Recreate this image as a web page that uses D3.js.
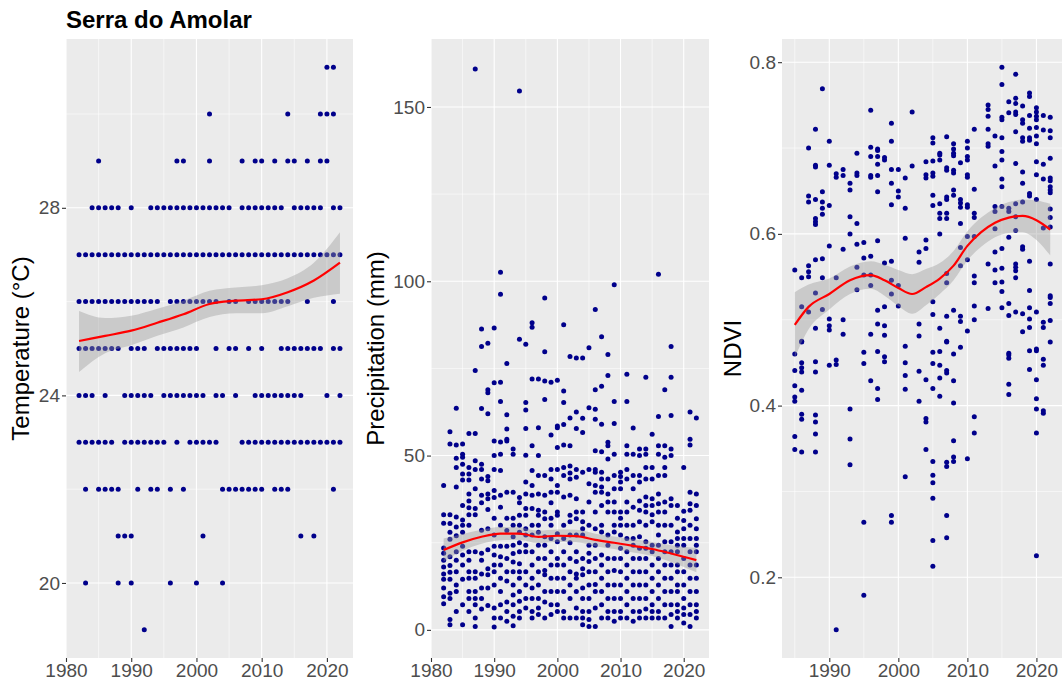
<!DOCTYPE html>
<html>
<head>
<meta charset="utf-8">
<script src="https://cdn.jsdelivr.net/npm/d3@7"></script>
<style>
  body { margin: 0; background: #fff; }
  text { font-family: "Liberation Sans", Arial, sans-serif; }
</style>
</head>
<body>
<script>
// ---------- data ----------
// temperature: integer levels, years that have a point on each level
var tempLevels = [31, 30, 29, 28, 27, 26, 25, 24, 23, 22, 21, 20, 19];
var tempYears = [
  [2020, 2021],
  [2002, 2014, 2019, 2020, 2021],
  [1985, 1997, 1998, 2002, 2007, 2009, 2010, 2012, 2014, 2015, 2017, 2019, 2020],
  [1984, 1985, 1986, 1987, 1988, 1990, 1993, 1994, 1995, 1996, 1997, 1998, 1999, 2000, 2001, 2002, 2003, 2004, 2005,
   2007, 2008, 2009, 2010, 2011, 2012, 2013, 2015, 2016, 2017, 2018, 2019, 2021, 2022],
  [1982, 1983, 1984, 1985, 1986, 1987, 1988, 1989, 1990, 1991, 1992, 1993, 1994, 1995, 1996, 1997, 1998, 1999, 2000, 2001,
   2002, 2003, 2004, 2005, 2006, 2007, 2008, 2009, 2010, 2011, 2012, 2013, 2014, 2015, 2016, 2017, 2018, 2019, 2020, 2021, 2022],
  [1982, 1983, 1984, 1985, 1986, 1987, 1988, 1989, 1990, 1991, 1992, 1993, 1994, 1996, 1997, 1998, 1999, 2000, 2001, 2002,
   2003, 2005, 2006, 2008, 2009, 2010, 2011, 2012, 2013, 2014, 2017, 2021],
  [1982, 1983, 1984, 1985, 1986, 1987, 1988, 1990, 1991, 1992, 1994, 1995, 1996, 1997, 1998, 1999, 2000, 2003, 2005, 2006,
   2008, 2010, 2013, 2014, 2015, 2016, 2017, 2018, 2019, 2021, 2022],
  [1982, 1983, 1984, 1986, 1989, 1990, 1991, 1992, 1993, 1995, 1996, 1997, 1998, 1999, 2000, 2001, 2003, 2004, 2006, 2009,
   2010, 2011, 2012, 2013, 2014, 2015, 2016, 2020, 2022],
  [1982, 1983, 1984, 1985, 1986, 1987, 1989, 1990, 1991, 1992, 1993, 1994, 1995, 1997, 1999, 2000, 2001, 2002, 2003, 2007,
   2008, 2009, 2010, 2011, 2012, 2013, 2014, 2015, 2016, 2017, 2018, 2019, 2020, 2021, 2022],
  [1983, 1985, 1986, 1987, 1988, 1991, 1993, 1994, 1996, 1998, 2004, 2005, 2006, 2007, 2008, 2009, 2010, 2012, 2013, 2014, 2021],
  [1988, 1989, 1990, 2001, 2016, 2018],
  [1983, 1988, 1990, 1996, 2000, 2004],
  [1992]
];
var tempSmoothYears = [1982, 1986, 1990, 1994, 1998, 2002, 2006, 2010, 2014, 2018, 2022];
var tempFit   = [25.16, 25.27, 25.38, 25.55, 25.73, 25.95, 26.02, 26.05, 26.2, 26.45, 26.83];
var tempLower = [24.5, 24.9, 25.07, 25.27, 25.45, 25.67, 25.75, 25.75, 25.9, 26.08, 26.17];
var tempUpper = [25.8, 25.65, 25.7, 25.85, 26.02, 26.23, 26.3, 26.35, 26.5, 26.83, 27.48];

// precipitation (mm), points per year
var precipYears = [1982, 1983, 1984, 1985, 1986, 1987, 1988, 1989, 1990, 1991, 1992, 1993, 1994, 1995, 1996, 1997, 1998, 1999,
  2000, 2001, 2002, 2003, 2004, 2005, 2006, 2007, 2008, 2009, 2010, 2011, 2012, 2013, 2014, 2015, 2016, 2017, 2018, 2019,
  2020, 2021, 2022];
var precipValues = [
  [41.4, 33, 30.6, 23.5, 22, 20, 18, 16, 14.5, 12, 9.5, 7.5],
  [56.8, 53.3, 33, 30.5, 28, 26, 21, 18.5, 16.5, 14.5, 10.5, 9, 3, 1.5],
  [63.6, 53, 49.2, 46.6, 41, 32.4, 29.5, 27, 22.4, 20, 16.7, 12.9, 11, 5.3],
  [53.3, 50.4, 49.5, 47.5, 44.7, 43, 35.7, 31.5, 30, 28, 24, 21.5, 18.6, 14.5, 7.2, 1.5],
  [56.3, 46.6, 44.7, 43, 39, 37, 35, 33, 30, 22.4, 20, 16.7, 14.8, 11, 9, 5.3],
  [160.9, 74.4, 56.3, 48.5, 46, 40.5, 34.8, 33, 22.4, 16.7, 14.8, 11, 9, 7.2, 3.4, 1],
  [86.3, 81.3, 63.5, 47.5, 46, 43.3, 38.6, 36.5, 28.6, 22, 20, 16, 12, 9, 6],
  [82.2, 68.9, 68, 62, 44, 42.8, 39, 37.6, 34.5, 29, 23, 17.5, 15.8, 12, 7],
  [86.6, 70.9, 54.2, 50, 46, 40, 38, 32, 27.2, 24, 21.5, 18.6, 16.7, 12.9, 6.3, 3.4, 0.8],
  [102.6, 96.3, 71, 65.5, 53.9, 50.4, 45.7, 38.6, 35.2, 30, 24, 21, 18.6, 14.8, 11, 7.2, 3.4],
  [76.4, 61.7, 57.6, 54.7, 54.2, 39.5, 32, 28.5, 24, 20.5, 16.7, 14, 8, 5.3, 2.5],
  [51.9, 50.4, 39.5, 32, 30, 26.7, 24.3, 21.9, 19.5, 16.7, 12.9, 10, 7.2, 3.9, 1.2],
  [154.6, 83.4, 38, 36.5, 32.9, 30, 28, 25, 22.4, 19, 16.7, 14.8, 11, 8.2, 5.3, 3.4],
  [81.9, 65.2, 63.1, 57.8, 50.1, 42.4, 39, 34.8, 32.9, 29, 27.2, 24.3, 22.4, 16.7, 12.9, 9, 6.3],
  [88.1, 86.8, 72, 52.8, 45.7, 41.4, 38.6, 34.8, 30, 27.2, 22.4, 18.6, 14.8, 12, 9, 5.3, 3.4],
  [72, 58, 50, 44.3, 39, 34.3, 32.9, 30, 28, 24.3, 20.5, 16.7, 12.9, 9, 6.3, 4.4],
  [95.2, 79.8, 71.4, 66.1, 44.3, 38.6, 33.8, 31.9, 26.7, 24.3, 20.5, 17, 15.8, 11, 8, 3.4],
  [71, 55.9, 46, 43.3, 39.5, 36.5, 32, 30, 26.2, 22.4, 18.6, 14.8, 11, 7.2, 4.4],
  [71.6, 58.5, 58, 52.3, 46, 41.4, 39.5, 33.8, 32.9, 27.6, 25.3, 20.5, 18.6, 14.8, 11, 7.2, 5.3],
  [87.5, 68.5, 65.2, 58.9, 53, 46.6, 44.3, 38.1, 30, 26.2, 22.4, 18.6, 14.8, 11, 5.3, 3.4],
  [78.4, 60.8, 52.8, 47, 45, 43.3, 38.6, 32.9, 31, 27.2, 25, 20.5, 16.7, 12.9, 9, 3.4],
  [78, 62.5, 57.8, 46, 43.8, 37.6, 33.8, 31.9, 27.2, 22.4, 19.6, 16, 14.8, 11, 6.3, 3.4],
  [78, 60.7, 56.6, 45.2, 33.8, 31, 29, 27.2, 20.5, 17.5, 15.8, 12, 9, 5.3, 3.4, 1.5],
  [80.9, 63.7, 46, 41.9, 36.7, 30, 24.3, 22, 19.6, 16.7, 12.9, 9, 5.3, 3, 1],
  [91.9, 68.9, 63.3, 60.4, 51.4, 46, 45.2, 41.4, 39.5, 33.8, 29, 24.3, 20.5, 16.7, 13, 11, 6.3, 1],
  [84.1, 69.9, 59, 51.1, 45.2, 43.3, 41, 39.5, 35.7, 30, 28.1, 21.5, 18.6, 14.8, 11, 7.2, 3.4],
  [79, 73, 53.8, 52.8, 49, 43.3, 39, 36.7, 33.8, 27.2, 24.3, 20.5, 16.7, 12.9, 9, 5.3, 3.4],
  [99, 65.5, 59.2, 50.4, 44.3, 40.5, 36.7, 33.8, 30, 28.1, 20.5, 17, 12.9, 9, 5.3, 2.5],
  [45.2, 44, 42.4, 40.5, 33.8, 32, 30, 27.2, 23.4, 20.5, 16.7, 12.9, 9, 5.3, 3.4],
  [73.3, 65.5, 52.8, 50.4, 46, 43.3, 36.7, 33.8, 30, 26.2, 22.4, 18.6, 14.8, 11, 7.2, 3.4],
  [57.9, 50.4, 44.3, 40.5, 35.2, 30, 26.2, 24.3, 20.5, 16.7, 12.9, 9, 5.3, 2.5],
  [51.9, 50, 44.3, 42.4, 37, 34.3, 31, 26.7, 23.4, 20.5, 16.7, 12.9, 9, 5.3, 3.4],
  [72.5, 51.9, 50.4, 46.6, 43.3, 38.1, 35.7, 33.8, 30, 25.3, 23.4, 20.5, 16.7, 12.9, 9, 6, 3.4],
  [56.1, 46.6, 43.3, 37.6, 35.7, 33, 31, 24.3, 22.4, 18.6, 14.8, 11, 7.2, 5.3, 3.4],
  [102, 61.2, 52.8, 50.4, 44.3, 39, 36.2, 33.8, 30, 27.2, 24.3, 20.5, 16.7, 12.9, 9, 5.3, 3.4],
  [68.9, 52.8, 49.5, 46.6, 44.3, 36.7, 33.8, 30, 25.3, 22.4, 18.6, 14.8, 11, 7.2, 3.4],
  [81.3, 72.5, 61.5, 51.9, 50, 37.6, 35.7, 30, 25.3, 22.4, 18.6, 14.8, 11, 7.2, 4.4, 1],
  [35.7, 32, 28.1, 26.2, 24.3, 22.4, 18.6, 16.7, 12.9, 11, 7.2, 5.3, 3.4],
  [46.6, 34, 31.4, 29, 26.2, 24.3, 20.5, 16.7, 12.9, 9, 6.3, 4.4, 2],
  [62.5, 54.7, 53, 39.5, 36.2, 34.3, 30, 26.2, 22.4, 18.6, 14.8, 11, 7.2, 4.4, 1],
  [60.8, 39, 35.7, 31.9, 29, 26.2, 24.3, 22.4, 18.6, 14.8, 11, 7.2, 5.3, 3.4]
];
var precipSmoothYears = [1982, 1985, 1988, 1991, 1994, 1997, 2000, 2003, 2006, 2009, 2012, 2015, 2018, 2022];
var precipFit   = [22.9, 25.1, 26.7, 27.6, 27.6, 26.7, 27.0, 26.9, 25.8, 25.0, 24.1, 23.2, 21.9, 20.0];
var precipLower = [19.6, 22.7, 24.7, 25.7, 25.8, 24.9, 25.2, 25.1, 24.0, 23.2, 22.2, 21.2, 19.5, 16.5];
var precipUpper = [26.2, 27.5, 28.7, 29.5, 29.4, 28.5, 28.8, 28.7, 27.6, 26.8, 26.0, 25.2, 24.3, 23.5];

// NDVI, points per year
var ndviYears = [1985, 1986, 1987, 1988, 1989, 1990, 1991, 1992, 1993, 1994, 1995, 1996, 1997, 1998, 1999, 2000, 2001,
  2002, 2003, 2004, 2005, 2006, 2007, 2008, 2009, 2010, 2011, 2013, 2014, 2015, 2016, 2017, 2018, 2019, 2020, 2021, 2022];
var ndviValues = [
  [0.558, 0.46, 0.441, 0.423, 0.41, 0.405, 0.364, 0.349],
  [0.549, 0.515, 0.475, 0.474, 0.45, 0.444, 0.439, 0.418, 0.39, 0.384, 0.346],
  [0.70, 0.644, 0.637, 0.563, 0.556, 0.55, 0.509],
  [0.722, 0.68, 0.678, 0.64, 0.618, 0.614, 0.611, 0.57, 0.531, 0.49, 0.451, 0.439, 0.389, 0.381, 0.367, 0.346],
  [0.769, 0.649, 0.637, 0.63, 0.623, 0.571, 0.549, 0.512],
  [0.708, 0.68, 0.633, 0.586, 0.501, 0.493, 0.488, 0.447],
  [0.670, 0.666, 0.549, 0.453, 0.448, 0.139],
  [0.675, 0.668, 0.582, 0.5, 0.483],
  [0.659, 0.651, 0.62, 0.60, 0.396, 0.361, 0.331],
  [0.694, 0.671, 0.668, 0.612, 0.588, 0.561, 0.535],
  [0.590, 0.572, 0.552, 0.462, 0.449, 0.264, 0.179],
  [0.744, 0.701, 0.690, 0.668, 0.666, 0.574, 0.552, 0.54, 0.483, 0.429],
  [0.699, 0.697, 0.690, 0.681, 0.668, 0.649, 0.592, 0.511, 0.495, 0.463, 0.42, 0.407],
  [0.689, 0.686, 0.566, 0.515, 0.493, 0.482, 0.457, 0.451],
  [0.729, 0.708, 0.675, 0.659, 0.634, 0.568, 0.546, 0.53, 0.272, 0.264],
  [0.675, 0.65, 0.643, 0.54, 0.516],
  [0.665, 0.630, 0.595, 0.469, 0.45, 0.435, 0.419, 0.317],
  [0.742, 0.679],
  [0.579, 0.567, 0.495, 0.481, 0.44, 0.405],
  [0.684, 0.669, 0.665, 0.593, 0.583, 0.43, 0.385, 0.381, 0.349],
  [0.712, 0.706, 0.685, 0.671, 0.667, 0.645, 0.633, 0.521, 0.506, 0.462, 0.449, 0.42, 0.335, 0.319, 0.31, 0.292, 0.243, 0.213],
  [0.694, 0.692, 0.686, 0.635, 0.624, 0.618, 0.6, 0.49, 0.463, 0.447, 0.432, 0.411],
  [0.713, 0.677, 0.674, 0.643, 0.64, 0.624, 0.618, 0.554, 0.543, 0.504, 0.475, 0.474, 0.441, 0.438, 0.334, 0.329, 0.272, 0.246],
  [0.705, 0.699, 0.694, 0.691, 0.674, 0.671, 0.651, 0.645, 0.511, 0.46, 0.429, 0.403, 0.359, 0.34, 0.335],
  [0.683, 0.64, 0.636, 0.631, 0.612, 0.584, 0.563, 0.504, 0.498, 0.468],
  [0.708, 0.70, 0.69, 0.686, 0.669, 0.666, 0.634, 0.631, 0.597, 0.57, 0.487, 0.338],
  [0.722, 0.652, 0.624, 0.619, 0.597, 0.551, 0.543, 0.516, 0.5, 0.387, 0.368],
  [0.75, 0.745, 0.737, 0.722, 0.705, 0.702, 0.565, 0.513],
  [0.714, 0.679, 0.632, 0.626, 0.606, 0.579, 0.558, 0.543],
  [0.794, 0.774, 0.736, 0.733, 0.712, 0.696, 0.686, 0.664, 0.655, 0.632, 0.583, 0.56, 0.544, 0.533, 0.514],
  [0.754, 0.741, 0.63, 0.626, 0.596, 0.519, 0.505, 0.461, 0.459, 0.455, 0.425, 0.413],
  [0.786, 0.758, 0.752, 0.742, 0.739, 0.719, 0.682, 0.635, 0.62, 0.604, 0.565, 0.561, 0.557, 0.549, 0.509],
  [0.749, 0.733, 0.729, 0.712, 0.708, 0.672, 0.659, 0.637, 0.585, 0.582, 0.507, 0.486],
  [0.764, 0.76, 0.738, 0.723, 0.712, 0.709, 0.647, 0.644, 0.568, 0.534, 0.514, 0.501, 0.491, 0.464, 0.442],
  [0.747, 0.742, 0.737, 0.733, 0.724, 0.714, 0.705, 0.684, 0.669, 0.64, 0.509, 0.466, 0.464, 0.43, 0.408, 0.396, 0.368, 0.225],
  [0.738, 0.721, 0.681, 0.664, 0.607, 0.497, 0.491, 0.454, 0.447, 0.394, 0.391],
  [0.736, 0.72, 0.712, 0.688, 0.665, 0.662, 0.655, 0.651, 0.648, 0.629, 0.619, 0.608, 0.565, 0.528, 0.526, 0.519, 0.499, 0.474]
];
var ndviSmoothYears = [1985, 1987, 1990, 1993, 1996, 1998, 2000, 2002, 2004, 2006, 2008, 2010, 2012, 2014, 2016, 2018, 2020, 2022];
var ndviFit   = [0.494, 0.515, 0.530, 0.546, 0.552, 0.546, 0.537, 0.530, 0.538, 0.548, 0.563, 0.586, 0.602, 0.613, 0.619, 0.621, 0.616, 0.605];
var ndviLower = [0.456, 0.489, 0.512, 0.530, 0.536, 0.528, 0.516, 0.507, 0.517, 0.530, 0.546, 0.569, 0.585, 0.596, 0.601, 0.602, 0.593, 0.575];
var ndviUpper = [0.532, 0.541, 0.548, 0.562, 0.568, 0.564, 0.558, 0.553, 0.559, 0.566, 0.580, 0.603, 0.619, 0.630, 0.637, 0.640, 0.639, 0.635];

// ---------- chart ----------
var W = 1062, H = 685;
var panelTop = 39, panelBottom = 658;
var svg = d3.select("body").append("svg")
  .attr("width", W)
  .attr("height", H);

// title
svg.append("text")
  .attr("x", 66)
  .attr("y", 28)
  .attr("font-size", "24px")
  .attr("font-weight", "bold")
  .attr("fill", "#000")
  .text("Serra do Amolar");

function drawPanel(o, id) {
  var x = d3.scaleLinear().domain(o.xDomain).range([o.left, o.right]);
  var y = d3.scaleLinear().domain(o.yDomain).range([panelBottom, panelTop]);

  // panel background
  svg.append("rect")
    .attr("x", o.left).attr("y", panelTop)
    .attr("width", o.right - o.left).attr("height", panelBottom - panelTop)
    .attr("fill", "#EBEBEB");

  var grid = svg.append("g");
  // minor grid
  o.xMinor.forEach(function(v) {
    grid.append("line").attr("x1", x(v)).attr("x2", x(v)).attr("y1", panelTop).attr("y2", panelBottom)
      .attr("stroke", "#fff").attr("stroke-width", 0.55);
  });
  o.yMinor.forEach(function(v) {
    grid.append("line").attr("x1", o.left).attr("x2", o.right).attr("y1", y(v)).attr("y2", y(v))
      .attr("stroke", "#fff").attr("stroke-width", 0.55);
  });
  // major grid
  o.xTicks.forEach(function(v) {
    grid.append("line").attr("x1", x(v)).attr("x2", x(v)).attr("y1", panelTop).attr("y2", panelBottom)
      .attr("stroke", "#fff").attr("stroke-width", 1.1);
  });
  o.yTicks.forEach(function(v) {
    grid.append("line").attr("x1", o.left).attr("x2", o.right).attr("y1", y(v)).attr("y2", y(v))
      .attr("stroke", "#fff").attr("stroke-width", 1.1);
  });

  // clip
  svg.append("clipPath").attr("id", "clip" + id)
    .append("rect")
    .attr("x", o.left).attr("y", panelTop)
    .attr("width", o.right - o.left).attr("height", panelBottom - panelTop);

  var g = svg.append("g").attr("clip-path", "url(#clip" + id + ")");

  // points
  g.selectAll(".pt")
    .data(o.points)
    .enter().append("circle")
    .attr("class", "pt")
    .attr("cx", function(d) { return x(d.x); })
    .attr("cy", function(d) { return y(d.y); })
    .attr("r", 2.5)
    .attr("fill", "#00008B");

  // smooth ribbon + line
  var sm = o.smooth;
  var area = d3.area()
    .x(function(d) { return x(d.x); })
    .y0(function(d) { return y(d.lo); })
    .y1(function(d) { return y(d.hi); })
    .curve(d3.curveMonotoneX);
  var line = d3.line()
    .x(function(d) { return x(d.x); })
    .y(function(d) { return y(d.fit); })
    .curve(d3.curveMonotoneX);

  g.append("path").datum(sm)
    .attr("d", area)
    .attr("fill", "#999999")
    .attr("fill-opacity", 0.4);
  g.append("path").datum(sm)
    .attr("d", line)
    .attr("fill", "none")
    .attr("stroke", "#FF0000")
    .attr("stroke-width", 2.2);

  // axes
  var xAxis = svg.append("g")
    .attr("transform", "translate(0," + panelBottom + ")")
    .call(d3.axisBottom(x).tickValues(o.xTicks).tickFormat(d3.format("d")).tickSize(4).tickPadding(2));
  var yAxis = svg.append("g")
    .attr("transform", "translate(" + o.left + ",0)")
    .call(d3.axisLeft(y).tickValues(o.yTicks).tickFormat(o.yFormat).tickSize(4).tickPadding(2));

  [xAxis, yAxis].forEach(function(a) {
    a.select(".domain").remove();
    a.selectAll(".tick line").attr("stroke", "#333333").attr("stroke-width", 1.1);
    a.selectAll(".tick text")
      .attr("fill", "#4D4D4D")
      .attr("font-size", "19px")
      .attr("font-family", "Liberation Sans, Arial, sans-serif");
  });

  // axis title
  svg.append("text")
    .attr("transform", "translate(" + o.titleX + "," + ((panelTop + panelBottom) / 2) + ") rotate(-90)")
    .attr("text-anchor", "middle")
    .attr("font-size", "24px")
    .attr("fill", "#000")
    .text(o.title);
}

// build point lists
var tempPoints = [];
tempLevels.forEach(function(lv, i) {
  tempYears[i].forEach(function(yr) { tempPoints.push({ x: yr, y: lv }); });
});
var precipPoints = [];
precipYears.forEach(function(yr, i) {
  precipValues[i].forEach(function(v) { precipPoints.push({ x: yr, y: v }); });
});
var ndviPoints = [];
ndviYears.forEach(function(yr, i) {
  ndviValues[i].forEach(function(v) { ndviPoints.push({ x: yr, y: v }); });
});

function smoothRows(yrs, fit, lo, hi) {
  return yrs.map(function(yr, i) { return { x: yr, fit: fit[i], lo: lo[i], hi: hi[i] }; });
}

drawPanel({
  left: 66, right: 353,
  xDomain: [1980, 2024], yDomain: [18.4, 31.6],
  xTicks: [1980, 1990, 2000, 2010, 2020], xMinor: [1985, 1995, 2005, 2015],
  yTicks: [20, 24, 28], yMinor: [22, 26, 30],
  yFormat: d3.format("d"),
  title: "Temperature (°C)", titleX: 29,
  points: tempPoints,
  smooth: smoothRows(tempSmoothYears, tempFit, tempLower, tempUpper)
}, 1);

drawPanel({
  left: 431, right: 709,
  xDomain: [1980, 2024], yDomain: [-8.07, 169.5],
  xTicks: [1980, 1990, 2000, 2010, 2020], xMinor: [1985, 1995, 2005, 2015],
  yTicks: [0, 50, 100, 150], yMinor: [25, 75, 125],
  yFormat: d3.format("d"),
  title: "Precipitation (mm)", titleX: 384,
  points: precipPoints,
  smooth: smoothRows(precipSmoothYears, precipFit, precipLower, precipUpper)
}, 2);

drawPanel({
  left: 782, right: 1063,
  xDomain: [1983.15, 2023.85], yDomain: [0.106, 0.827],
  xTicks: [1990, 2000, 2010, 2020], xMinor: [1985, 1995, 2005, 2015],
  yTicks: [0.2, 0.4, 0.6, 0.8], yMinor: [0.3, 0.5, 0.7],
  yFormat: d3.format(".1f"),
  title: "NDVI", titleX: 741,
  points: ndviPoints,
  smooth: smoothRows(ndviSmoothYears, ndviFit, ndviLower, ndviUpper)
}, 3);
</script>
</body>
</html>
